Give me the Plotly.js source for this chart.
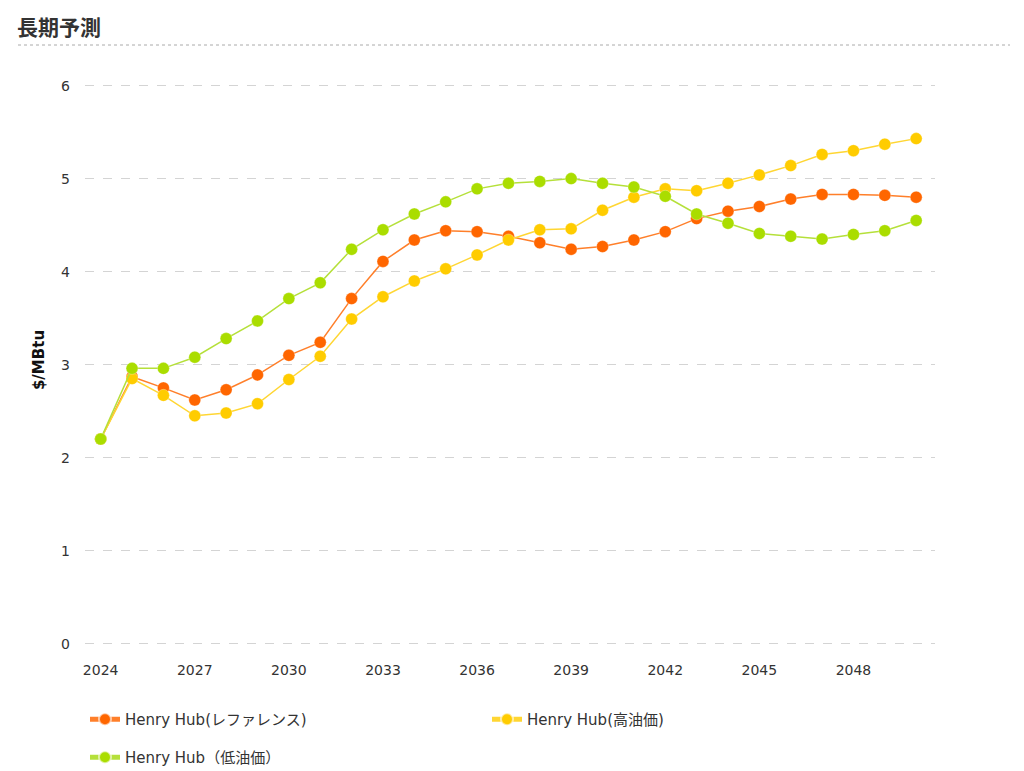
<!DOCTYPE html>
<html>
<head>
<meta charset="utf-8">
<script src="https://cdn.plot.ly/plotly-3.0.1.min.js"></script>
<style>html,body{margin:0;padding:0;background:#fff;}#chart{width:1024px;height:771px;}</style>
</head>
<body>
<div id="chart"></div>
<script>
const years = [2024,2025,2026,2027,2028,2029,2030,2031,2032,2033,2034,2035,2036,2037,2038,2039,2040,2041,2042,2043,2044,2045,2046,2047,2048,2049,2050];
const reference = [2.20,2.87,2.75,2.62,2.73,2.89,3.10,3.24,3.71,4.11,4.34,4.44,4.43,4.38,4.31,4.24,4.27,4.34,4.43,4.57,4.65,4.70,4.78,4.83,4.83,4.82,4.80];
const highOil = [2.20,2.85,2.67,2.45,2.48,2.58,2.84,3.09,3.49,3.73,3.90,4.03,4.18,4.34,4.45,4.46,4.66,4.80,4.89,4.87,4.95,5.04,5.14,5.26,5.30,5.37,5.43];
const lowOil = [2.20,2.96,2.96,3.08,3.28,3.47,3.71,3.88,4.24,4.45,4.62,4.75,4.89,4.95,4.97,5.00,4.95,4.91,4.81,4.62,4.52,4.41,4.38,4.35,4.40,4.44,4.55];
const seriesNames = ['Henry Hub(レファレンス)','Henry Hub(高油価)','Henry Hub（低油価）'];
const xTicks = [2024,2027,2030,2033,2036,2039,2042,2045,2048];
const yTicks = [0,1,2,3,4,5,6];

const font = '"DejaVu Sans", "Noto Sans CJK JP", sans-serif';
const cjkFont = '"Noto Sans CJK JP", sans-serif';
function tr(y, name, lineColor, markerColor, legendId){
  return {x: years, y: y, name: name, type: 'scatter', mode: 'lines+markers',
    legend: legendId,
    line: {color: lineColor, width: 1.5},
    marker: {color: markerColor, size: 12, line: {color: 'rgba(255,255,255,0.6)', width: 0.5}}};
}
const data = [
  tr(reference, seriesNames[0], '#FF7F2A', '#FF6600', 'legend'),
  tr(highOil, seriesNames[1], '#FFD633', '#FFCC00', 'legend2'),
  tr(lowOil, seriesNames[2], '#B5E03A', '#AADD00', 'legend3')
];
const legendBase = {orientation: 'h', xref: 'container', yref: 'container', xanchor: 'left', yanchor: 'top',
  font: {size: 15, color: '#333', family: font}, itemsizing: 'constant', bgcolor: 'rgba(0,0,0,0)'};
const layout = {
  width: 1024, height: 771,
  margin: {l: 85, r: 89, t: 67, b: 118},
  paper_bgcolor: '#fff', plot_bgcolor: '#fff',
  font: {family: font, size: 14, color: '#333'},
  showlegend: true,
  xaxis: {range: [2023.5, 2050.6], tickvals: xTicks, ticktext: xTicks.map(String),
    showgrid: false, zeroline: false, showline: false, ticks: '', automargin: false,
    ticklabelstandoff: 7, tickfont: {size: 14, color: '#333', family: font}, fixedrange: true},
  yaxis: {range: [-0.1, 6.2], tickvals: yTicks, showgrid: true, gridcolor: '#d4d4d4',
    griddash: 'dash', gridwidth: 1, zeroline: false, showline: false, ticks: '', automargin: false,
    ticklabelstandoff: 14, tickfont: {size: 14, color: '#333', family: font},
    title: {text: '$/MBtu', font: {size: 15, color: '#111', weight: 'bold', family: font}, standoff: 12}},
  legend: Object.assign({}, legendBase, {x: 85/1024, y: (771-703)/771}),
  legend2: Object.assign({}, legendBase, {x: 487/1024, y: (771-703)/771}),
  legend3: Object.assign({}, legendBase, {x: 85/1024, y: (771-741)/771}),
  annotations: [{xref: 'paper', yref: 'paper', x: -70/850, y: 1 + 41/586, xanchor: 'left', yanchor: 'middle',
    text: '<b>長期予測</b>', showarrow: false, font: {size: 21, color: '#333', family: cjkFont}}],
  shapes: [{type: 'line', xref: 'paper', yref: 'paper', x0: -67/850, x1: 1 + 75/850,
    y0: 1 + 22/586, y1: 1 + 22/586, line: {color: '#aaa', width: 1, dash: 'dot'}}]
};
Plotly.newPlot('chart', data, layout, {displayModeBar: false, staticPlot: true});
</script>
</body>
</html>
